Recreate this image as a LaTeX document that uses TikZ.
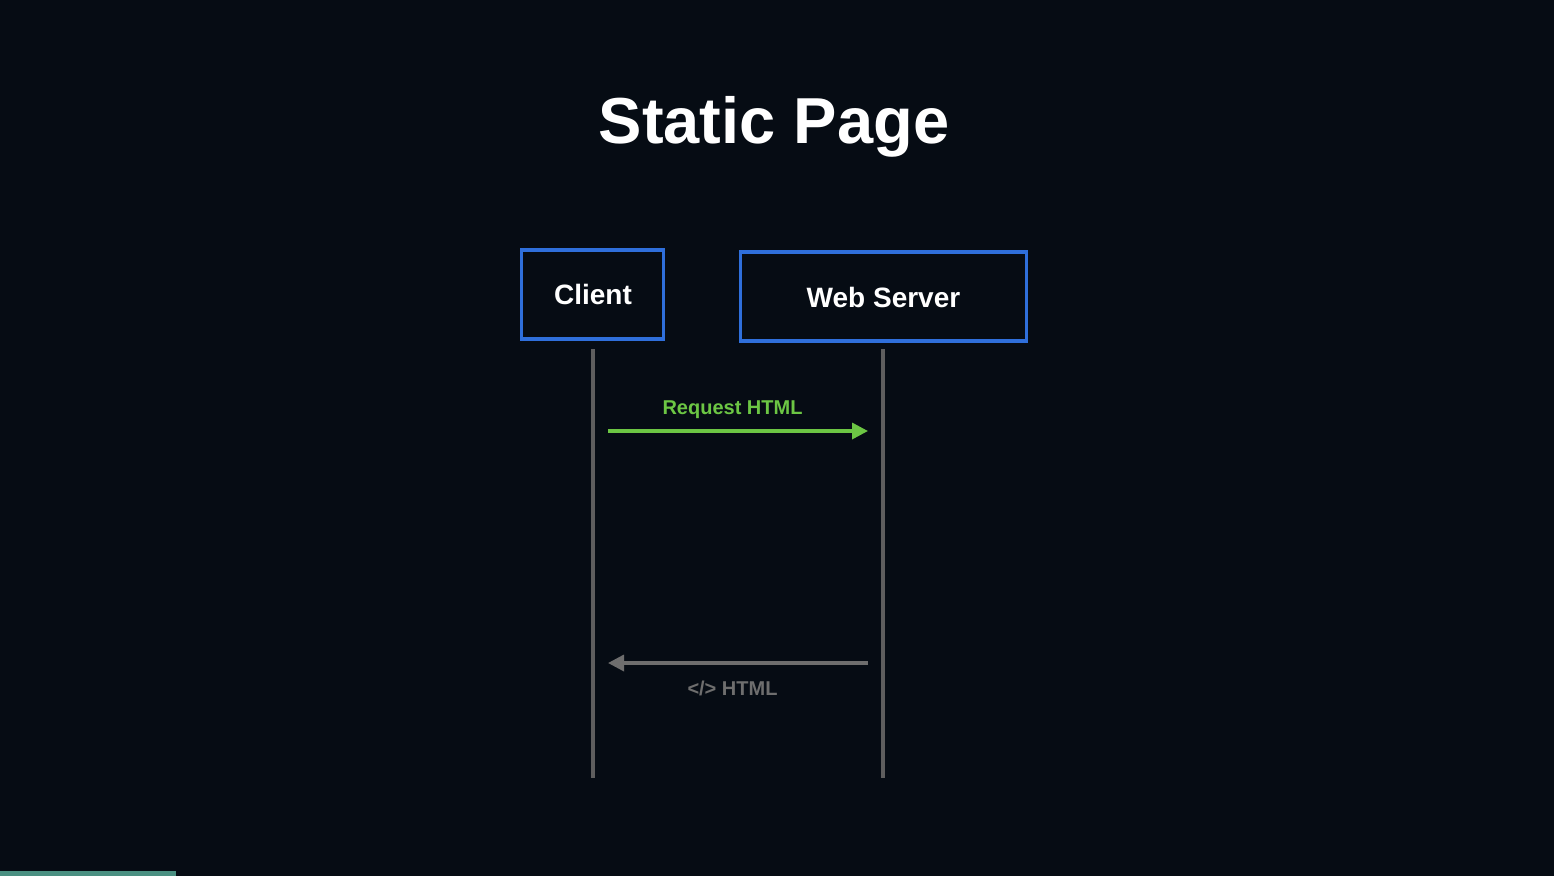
\documentclass[tikz,border=0pt]{standalone}
\usepackage{fontspec}
\setmainfont{Liberation Sans}
\usetikzlibrary{arrows.meta}
\definecolor{bg}{HTML}{060C14}
\definecolor{boxblue}{HTML}{2F6FDB}
\definecolor{reqgreen}{HTML}{6CC644}
\definecolor{lifegray}{HTML}{5E5E5E}
\definecolor{retgray}{HTML}{6E6E6E}
\definecolor{bar}{HTML}{4A9082}
\tikzset{
  actor/.style={draw=boxblue, line width=3.6pt, fill=bg, inner sep=0pt},
  actortext/.style={text=white, font=\fontsize{28}{30}\selectfont\bfseries, inner sep=0pt, anchor=base},
  lifeline/.style={draw=lifegray, line width=3.6pt},
  msglabel/.style={font=\fontsize{20}{22}\selectfont\bfseries, inner sep=0pt, anchor=base},
  reqarrow/.style={draw=reqgreen, line width=3.4pt, -{Triangle[length=16pt,width=16pt]}},
  retarrow/.style={draw=retgray, line width=3.4pt, -{Triangle[length=16pt,width=16pt]}},
}
\begin{document}
\begin{tikzpicture}[x=1pt,y=-1pt]
\fill[bg] (0,0) rectangle (1554,876);
\useasboundingbox (0,0) rectangle (1554,876);
\fill[bar] (0,871) rectangle (176,876);
\node[text=white, font=\fontsize{65}{70}\selectfont\bfseries, inner sep=0pt, anchor=base] (title) at (774,143) {Static Page};
% boxes
\node[actor, minimum width=142pt, minimum height=89pt] (client) at (592.5,294.5) {};
\node[actor, minimum width=286pt, minimum height=89pt] (server) at (883.5,296.5) {};
\node[actortext] (clientlbl) at (593,304) {Client};
\node[actortext] (serverlbl) at (883.5,307) {Web Server};
% lifelines
\coordinate (c1) at (593,349);
\coordinate (c2) at (593,778);
\coordinate (s1) at (883,349);
\coordinate (s2) at (883,778);
\draw[lifeline] (c1) -- (c2);
\draw[lifeline] (s1) -- (s2);
% messages
\coordinate (reqA) at (608,431);
\coordinate (reqB) at (868,431);
\draw[reqarrow] (reqA) -- (reqB);
\node[msglabel, text=reqgreen] (reqlbl) at (732.5,414) {Request HTML};
\coordinate (retA) at (868,663);
\coordinate (retB) at (608,663);
\draw[retarrow] (retA) -- (retB);
\node[msglabel, text=retgray] (retlbl) at (732.5,695) {</> HTML};
\end{tikzpicture}
\end{document}
